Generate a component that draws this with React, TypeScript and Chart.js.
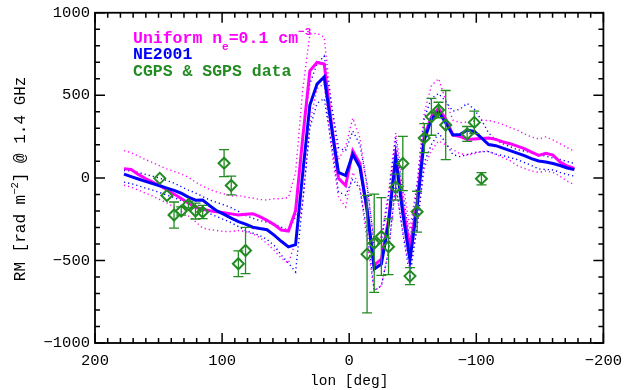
import React, { useEffect, useRef } from "react";
import { Chart, registerables } from "chart.js";

Chart.register(...registerables);

// Galactic longitude grid of the model curves (deg)
const LON = [
  177.19, 171.56, 165.94, 160.31, 154.69, 149.06, 143.44, 137.81, 132.19, 126.56,
  120.94, 115.31, 109.69, 104.06, 98.44, 92.81, 87.19, 81.56, 75.94, 70.31,
  64.69, 59.06, 53.44, 47.81, 42.19, 36.56, 30.94, 25.31, 19.69, 14.06,
  8.44, 2.81, -2.81, -8.44, -14.06, -19.69, -25.31, -30.94, -36.56, -42.19,
  -47.81, -53.44, -59.06, -64.69, -70.31, -75.94, -81.56, -87.19, -92.81, -98.44,
  -104.06, -109.69, -115.31, -120.94, -126.56, -132.19, -137.81, -143.44, -149.06, -154.69,
  -160.31, -165.94, -171.56, -177.19,
];

// Uniform n_e = 0.1 cm^-3 model (rad m^-2)
const UNIFORM = [
  56, 51, 21, -4, -25, -47, -72, -98, -125, -152,
  -178, -190, -199, -205, -211, -218, -225, -220, -217, -235,
  -257, -283, -316, -322, -199, 242, 648, 699, 690, 332,
  -2, -46, 163, 87, -205, -528, -492, -253, 135, -176,
  -426, -146, 254, 368, 421, 356, 260, 251, 233, 236,
  239, 242, 233, 218, 207, 192, 177, 156, 136, 149,
  138, 96, 72, 57,
];
const UNIFORM_HI = [
  165, 153, 132, 111, 93, 72, 54, 39, 24, 4,
  -26, -50, -71, -86, -98, -110, -107, -116, -122, -131,
  -134, -126, -126, -119, 33, 535, 870, 876, 852, 450,
  111, 189, 362, 242, -56, -385, -355, -86, 272, -26,
  -313, -26, 392, 559, 601, 469, 350, 335, 338, 344,
  350, 347, 338, 323, 305, 290, 266, 248, 236, 248,
  230, 207, 183, 162,
];
const UNIFORM_LO = [
  -44, -56, -74, -92, -110, -131, -152, -176, -200, -230,
  -265, -304, -313, -319, -325, -325, -319, -325, -340, -361,
  -397, -438, -486, -516, -385, -146, 332, 541, 571, 180,
  -116, -176, 33, -56, -385, -683, -653, -444, -56, -325,
  -552, -295, 63, 165, 224, 200, 171, 147, 138, 147,
  159, 162, 141, 123, 105, 75, 57, 42, 33, 42,
  33, 10, -20, -42,
];

// NE2001 model (rad m^-2)
const NE2001 = [
  23, 8, -7, -21, -35, -48, -62, -76, -93, -116,
  -135, -134, -169, -200, -221, -244, -265, -280, -299, -307,
  -314, -347, -384, -418, -404, 29, 441, 568, 611, 314,
  33, 14, 143, 63, -187, -552, -522, -277, 123, -217,
  -498, -176, 230, 356, 401, 332, 260, 263, 290, 281,
  242, 202, 195, 180, 165, 150, 135, 117, 102, 96,
  87, 75, 60, 50,
];
const NE2001_HI = [
  45, 42, 33, 21, 10, -2, -17, -32, -53, -74,
  -92, -113, -134, -149, -164, -181, -203, -227, -244, -259,
  -268, -280, -298, -319, -235, 272, 571, 690, 738, 451,
  183, 165, 284, 201, -38, -414, -385, -116, 242, -86,
  -385, -56, 362, 481, 511, 463, 404, 416, 451, 416,
  350, 272, 230, 207, 189, 171, 162, 153, 141, 132,
  120, 111, 99, 87,
];
const NE2001_LO = [
  -26, -35, -47, -62, -74, -89, -104, -119, -137, -155,
  -176, -196, -217, -235, -253, -271, -295, -319, -334, -349,
  -373, -409, -468, -516, -570, -146, 302, 451, 481, 213,
  -86, -104, -8, -68, -325, -683, -653, -444, -26, -337,
  -594, -295, 93, 201, 272, 213, 141, 129, 141, 153,
  159, 159, 144, 135, 123, 111, 93, 75, 54, 51,
  48, 33, 21, 10,
];

// CGPS & SGPS data
const DATA_LON = [
  149.06, 143.44, 137.81, 132.19, 126.56, 120.94, 115.31, 98.44, 92.81, 87.19, 81.56,
  -14.06, -19.69, -25.31, -30.94, -36.56, -42.19, -47.81, -53.44, -59.06, -64.69,
  -70.31, -75.94, -92.81, -98.44, -104.06,
];
const DATA_RM = [
  -3, -107, -225, -201, -162, -201, -207, 89, -46, -520, -440,
  -462, -396, -355, -417, -56, 87, -595, -205, 241, 370,
  411, 320, 266, 336, -5,
];
const DATA_ERR = [
  0, 0, 79, 25, 20, 48, 40, 82, 57, 78, 140,
  356, 298, 235, 169, 79, 164, 52, 124, 88, 112,
  47, 209, 45, 68, 37,
];

const X_TICKS = [200, 100, 0, -100, -200];
const Y_TICKS = [1000, 500, 0, -500, -1000];

const MAGENTA = "#ff00ff";
const BLUE = "#0000ff";
const GREEN = "#228b22";
const FONT = "'Liberation Mono', 'DejaVu Sans Mono', monospace";

const fmt = (v: number) => (v < 0 ? "\u2212" + Math.abs(v) : String(v));
const series = (ys: number[]) => LON.map((x, i) => ({ x, y: ys[i] }));

type Seg = { t: string; dy?: number; size?: number };

function richWidth(ctx: CanvasRenderingContext2D, segs: Seg[], size: number, weight: string) {
  let w = 0;
  for (const s of segs) {
    ctx.font = `${weight} ${s.size ?? size}px ${FONT}`;
    w += ctx.measureText(s.t).width;
  }
  return w;
}

function drawRich(
  ctx: CanvasRenderingContext2D,
  segs: Seg[],
  x: number,
  y: number,
  size: number,
  weight: string,
  color: string
) {
  ctx.fillStyle = color;
  ctx.textBaseline = "alphabetic";
  ctx.textAlign = "left";
  let cx = x;
  for (const s of segs) {
    ctx.font = `${weight} ${s.size ?? size}px ${FONT}`;
    ctx.fillText(s.t, cx, y + (s.dy ?? 0));
    cx += ctx.measureText(s.t).width;
  }
}

const errorBars = {
  id: "errorBars",
  afterDatasetsDraw(chart: any) {
    const { ctx, chartArea: a, scales } = chart;
    const x = scales.x;
    const y = scales.y;
    ctx.save();
    ctx.beginPath();
    ctx.rect(a.left, a.top, a.right - a.left, a.bottom - a.top);
    ctx.clip();
    ctx.strokeStyle = GREEN;
    ctx.lineWidth = 1.3;
    DATA_LON.forEach((lon, i) => {
      const e = DATA_ERR[i];
      if (!e) return;
      const px = x.getPixelForValue(lon);
      const p1 = y.getPixelForValue(DATA_RM[i] + e);
      const p2 = y.getPixelForValue(DATA_RM[i] - e);
      ctx.beginPath();
      ctx.moveTo(px, p1);
      ctx.lineTo(px, p2);
      ctx.moveTo(px - 5, p1);
      ctx.lineTo(px + 5, p1);
      ctx.moveTo(px - 5, p2);
      ctx.lineTo(px + 5, p2);
      ctx.stroke();
    });
    ctx.restore();
  },
};

const frame = {
  id: "frame",
  afterDraw(chart: any) {
    const { ctx, chartArea: a, scales } = chart;
    const x = scales.x;
    const y = scales.y;
    ctx.save();
    ctx.strokeStyle = "#000";
    ctx.lineWidth = 1.5;
    ctx.beginPath();
    for (let v = -200; v <= 200; v += 10) {
      const px = x.getPixelForValue(v);
      const len = v % 100 === 0 ? 10 : 5;
      ctx.moveTo(px, a.bottom);
      ctx.lineTo(px, a.bottom - len);
      ctx.moveTo(px, a.top);
      ctx.lineTo(px, a.top + len);
    }
    for (let v = -1000; v <= 1000; v += 100) {
      const py = y.getPixelForValue(v);
      const len = v % 500 === 0 ? 10 : 5;
      ctx.moveTo(a.left, py);
      ctx.lineTo(a.left + len, py);
      ctx.moveTo(a.right, py);
      ctx.lineTo(a.right - len, py);
    }
    ctx.stroke();
    ctx.lineWidth = 1.8;
    ctx.strokeRect(a.left, a.top, a.right - a.left, a.bottom - a.top);

    // legend
    const lx = a.left + 38;
    drawRich(
      ctx,
      [
        { t: "Uniform n" },
        { t: "e", dy: 7, size: 11 },
        { t: "=0.1 cm" },
        { t: "\u22123", dy: -7.5, size: 11 },
      ],
      lx,
      42.7,
      16.5,
      "bold",
      MAGENTA
    );
    drawRich(ctx, [{ t: "NE2001" }], lx, 59.3, 16.5, "bold", BLUE);
    drawRich(ctx, [{ t: "CGPS & SGPS data" }], lx, 76, 16.5, "bold", GREEN);

    // x title
    const xt: Seg[] = [{ t: "lon [deg]" }];
    const xw = richWidth(ctx, xt, 14.5, "normal");
    drawRich(ctx, xt, (a.left + a.right) / 2 - xw / 2, 385, 14.5, "normal", "#000");

    // y title
    const yt: Seg[] = [
      { t: "RM [rad m" },
      { t: "\u22122", dy: -6.5, size: 10.5 },
      { t: "] @ 1.4 GHz" },
    ];
    const yw = richWidth(ctx, yt, 16, "normal");
    ctx.translate(24.5, (a.top + a.bottom) / 2 + 1);
    ctx.rotate(-Math.PI / 2);
    drawRich(ctx, yt, -yw / 2, 0, 16, "normal", "#000");
    ctx.restore();
  },
};

export default function App() {
  const ref = useRef<HTMLCanvasElement | null>(null);

  useEffect(() => {
    document.body.style.margin = "0";
    const canvas = ref.current;
    if (!canvas) return;
    const dotted = (data: number[], color: string, order: number) => ({
      type: "line" as const,
      data: series(data),
      borderColor: color,
      borderWidth: 1.4,
      borderDash: [1.2, 3],
      pointRadius: 0,
      fill: false,
      tension: 0,
      order,
    });
    const chart = new Chart(canvas, {
      type: "scatter",
      data: {
        datasets: [
          {
            type: "scatter",
            data: DATA_LON.map((x, i) => ({ x, y: DATA_RM[i] })),
            pointStyle: "rectRot",
            pointRadius: 5.5,
            borderColor: GREEN,
            borderWidth: 2,
            backgroundColor: "rgba(0,0,0,0)",
            order: 0,
          } as any,
          {
            type: "line",
            data: series(NE2001),
            borderColor: BLUE,
            borderWidth: 3,
            pointRadius: 0,
            fill: false,
            tension: 0,
            order: 1,
          },
          {
            type: "line",
            data: series(UNIFORM),
            borderColor: MAGENTA,
            borderWidth: 3,
            pointRadius: 0,
            fill: false,
            tension: 0,
            order: 2,
          },
          dotted(NE2001_HI, BLUE, 3),
          dotted(NE2001_LO, BLUE, 4),
          dotted(UNIFORM_HI, MAGENTA, 5),
          dotted(UNIFORM_LO, MAGENTA, 6),
        ] as any,
      },
      options: {
        animation: false,
        responsive: false,
        devicePixelRatio: 1,
        layout: { padding: { left: 0, right: 22, top: 8, bottom: 0 } },
        plugins: { legend: { display: false }, tooltip: { enabled: false } },
        scales: {
          x: {
            type: "linear",
            min: -200,
            max: 200,
            reverse: true,
            grid: { display: false, drawTicks: false },
            border: { display: false },
            afterBuildTicks: (s: any) => {
              s.ticks = X_TICKS.map((v) => ({ value: v }));
            },
            afterFit: (s: any) => {
              s.height = 47;
            },
            ticks: {
              autoSkip: false,
              maxRotation: 0,
              padding: 10,
              color: "#000",
              font: { family: FONT, size: 15.5, lineHeight: 1 },
              callback: (v: any) => fmt(Number(v)),
            },
          },
          y: {
            type: "linear",
            min: -1000,
            max: 1000,
            grid: { display: false, drawTicks: false },
            border: { display: false },
            afterBuildTicks: (s: any) => {
              s.ticks = Y_TICKS.map((v) => ({ value: v }));
            },
            afterFit: (s: any) => {
              s.width = 95;
            },
            ticks: {
              autoSkip: false,
              padding: 5,
              color: "#000",
              font: { family: FONT, size: 15.5, lineHeight: 1 },
              callback: (v: any) => fmt(Number(v)),
            },
          },
        },
      },
      plugins: [errorBars, frame],
    });
    return () => chart.destroy();
  }, []);

  return (
    <div style={{ width: 632, height: 390, background: "#fff" }}>
      <canvas ref={ref} width={632} height={390} style={{ display: "block" }} />
    </div>
  );
}
